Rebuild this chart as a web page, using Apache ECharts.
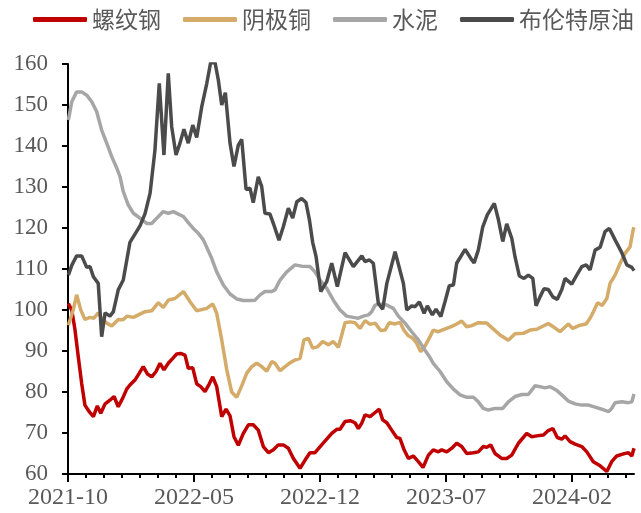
<!DOCTYPE html>
<html><head><meta charset="utf-8">
<script src="https://cdn.jsdelivr.net/npm/echarts@6/dist/echarts.min.js"></script>
<style>html,body{margin:0;padding:0;background:#fff}#c{width:641px;height:513px}</style>
</head><body><div id="c"></div>
<script>
// Series names and x tick labels
const seriesNames = ['螺纹钢', '阴极铜', '水泥', '布伦特原油'];
const tickLabels = ['2021-10', '2022-05', '2022-12', '2023-07', '2024-02'];
// [t, value], t = months since 2021-10-01
const rebar = [[0.02,101.6],[0.21,100],[0.39,95.1],[0.57,88.6],[0.76,82.1],[0.94,76.8],[1.18,75.2],[1.41,74],[1.63,76.6],[1.82,74.8],[2.06,77.1],[2.33,78],[2.56,78.9],[2.79,76.4],[3.04,78.5],[3.26,80.7],[3.44,81.7],[3.72,82.9],[3.96,84.6],[4.18,86.2],[4.41,84.4],[4.65,83.7],[4.89,85],[5.11,87],[5.33,85.4],[5.57,87],[5.82,88.2],[6.04,89.3],[6.26,89.4],[6.5,89],[6.68,85.8],[6.93,85.9],[7.15,82],[7.37,81.3],[7.61,80.1],[7.85,82],[8.04,83.7],[8.26,81.3],[8.54,74],[8.78,75.8],[9.0,74.2],[9.22,69.1],[9.46,67],[9.74,69.9],[10.02,72],[10.29,72],[10.57,70.7],[10.85,66.7],[11.13,65.2],[11.41,65.9],[11.68,67.1],[11.96,67.1],[12.24,66.3],[12.52,63.8],[12.89,61.4],[13.17,63.4],[13.44,65.2],[13.72,65.2],[14.09,67.1],[14.37,68.5],[14.65,69.9],[14.93,70.9],[15.11,70.9],[15.39,72.8],[15.67,73],[15.94,72.5],[16.13,71.1],[16.32,72.4],[16.5,74.4],[16.78,74],[17.06,75],[17.29,75.8],[17.48,73.2],[17.71,72.5],[17.98,70.7],[18.26,68.9],[18.44,68.7],[18.67,65.9],[18.91,63.8],[19.18,64.4],[19.46,63],[19.72,61.6],[20.02,64.6],[20.29,65.9],[20.57,65.4],[20.76,65.9],[21.04,65.4],[21.32,66.3],[21.59,67.5],[21.87,66.7],[22.15,65],[22.52,65.2],[22.79,65.4],[23.07,66.7],[23.26,66.5],[23.48,67.1],[23.72,65],[24.09,63.8],[24.37,63.8],[24.65,64.6],[25.02,67.5],[25.48,69.9],[25.76,69.1],[26.04,69.3],[26.41,69.5],[26.68,70.6],[26.93,71.1],[27.18,68.9],[27.43,68.5],[27.61,69.3],[27.89,67.9],[28.17,67.3],[28.54,66.7],[28.82,65.4],[29.18,63],[29.56,62],[29.93,60.6],[30.2,63],[30.48,64.4],[30.85,64.9],[31.13,65.2],[31.32,64.4],[31.44,66.3]];
const copper = [[0.02,96.3],[0.29,100],[0.48,103.7],[0.71,100],[0.94,97.7],[1.22,98.2],[1.44,98],[1.68,99.3],[1.87,98],[2.15,96.8],[2.43,96.1],[2.79,97.7],[3.04,97.6],[3.29,98.5],[3.63,98.2],[3.91,98.8],[4.28,99.6],[4.65,99.8],[5.02,101.8],[5.29,100.6],[5.57,102.4],[5.94,102.8],[6.41,104.5],[6.78,102],[7.15,99.8],[7.71,100.4],[8.04,101.5],[8.26,99.2],[8.54,92.7],[8.82,85.4],[9.09,80],[9.37,78.7],[9.65,81.5],[9.93,84.6],[10.21,86.2],[10.48,87],[10.76,86.2],[11.04,85.1],[11.32,87.4],[11.5,87],[11.78,85.2],[12.06,86.2],[12.33,87.1],[12.61,87.8],[12.89,88.2],[13.11,92.7],[13.35,93.1],[13.59,90.7],[13.85,91],[14.15,92.3],[14.46,91.5],[14.74,92.3],[15.02,90.9],[15.39,96.9],[15.67,97.1],[15.94,96.9],[16.22,95.5],[16.5,97.4],[16.78,96.5],[17.06,96.8],[17.37,95],[17.61,95.1],[17.85,96.9],[18.17,96.6],[18.44,97],[18.67,95],[18.91,93.7],[19.15,93.1],[19.37,91.9],[19.59,89.8],[19.83,91.2],[20.11,93.5],[20.29,95.1],[20.57,94.7],[20.85,95.2],[21.32,96],[21.59,96.6],[21.87,97.3],[22.15,95.9],[22.43,96.2],[22.79,96.9],[23.26,96.8],[23.54,95.7],[24.0,93.9],[24.46,92.6],[24.83,94.2],[25.29,94.3],[25.67,95.1],[26.04,95.3],[26.68,96.7],[27.06,95.6],[27.33,94.7],[27.79,96.6],[28.04,95.5],[28.44,96.3],[28.78,96.6],[29.0,98],[29.18,99.5],[29.42,101.8],[29.67,101.1],[29.93,102.8],[30.11,106.5],[30.39,108.5],[30.67,111.4],[30.94,113.8],[31.22,115.4],[31.39,119.5],[31.44,120.2]];
const cement = [[0.02,146.3],[0.21,150.8],[0.48,153.2],[0.76,153.2],[1.04,152.4],[1.32,150.8],[1.59,148.4],[1.87,143.9],[2.15,140.7],[2.43,137.4],[2.71,134.6],[2.89,132.5],[3.07,128.9],[3.35,125.6],[3.63,123.6],[4.0,122.4],[4.37,121.1],[4.65,121.1],[4.93,122.4],[5.29,124],[5.57,123.6],[5.85,124],[6.13,123.4],[6.41,122.8],[6.68,121.3],[6.96,119.9],[7.24,118.7],[7.52,117.1],[7.98,112.6],[8.26,109.3],[8.63,106.1],[9.0,103.9],[9.37,102.7],[9.74,102.3],[10.11,102.3],[10.39,102.4],[10.67,103.7],[10.94,104.5],[11.32,104.5],[11.5,104.9],[11.78,107.3],[12.15,109.3],[12.61,111],[12.98,110.7],[13.44,110.6],[13.72,109.3],[14.0,107.3],[14.37,105.3],[14.74,102.4],[15.11,100],[15.48,98.5],[15.85,98.2],[16.13,98],[16.41,98.5],[16.68,98.8],[16.87,99.6],[17.06,101.2],[17.33,101.5],[17.71,101.2],[18.07,100.4],[18.35,98.5],[18.72,96.8],[19.09,94.7],[19.46,92.7],[19.83,90.2],[20.11,88.4],[20.29,87],[20.67,85],[21.04,82.5],[21.41,80.7],[21.78,79.3],[22.15,78.7],[22.52,78.7],[22.79,77.6],[23.07,76],[23.35,75.6],[23.72,76],[24.15,76],[24.46,77.6],[24.83,78.9],[25.21,79.4],[25.57,79.4],[25.94,81.5],[26.22,81.3],[26.5,81],[26.78,81.3],[27.11,80.5],[27.43,79.3],[27.79,77.8],[28.17,77.1],[28.54,76.8],[28.91,76.8],[29.28,76.3],[29.65,75.8],[30.02,75.2],[30.2,76],[30.39,77.4],[30.76,77.6],[31.13,77.4],[31.32,77.6],[31.44,79.5]];
const brent = [[0.02,108.5],[0.22,111],[0.48,113.2],[0.76,113.2],[1.04,110.4],[1.22,110.6],[1.41,108.1],[1.68,106.5],[1.87,93.5],[2.06,99.3],[2.33,98.5],[2.52,99.6],[2.79,104.9],[3.07,107.3],[3.44,116.5],[3.72,118.5],[4.0,120.5],[4.28,123.5],[4.56,128.5],[4.83,139],[5.07,155.3],[5.33,137.8],[5.57,157.7],[5.76,144.7],[6.0,137.8],[6.22,140.7],[6.44,144.1],[6.68,140.7],[6.93,145.1],[7.15,142.1],[7.43,149.6],[7.71,155.3],[7.93,160.5],[8.17,160.3],[8.35,156.1],[8.54,150],[8.74,153],[9.0,140.7],[9.22,135],[9.46,140.2],[9.65,141.6],[9.89,129.4],[10.11,129.7],[10.29,126.2],[10.57,132.5],[10.76,130.1],[10.94,123.6],[11.22,123.4],[11.44,120.7],[11.72,117],[11.96,120.3],[12.24,124.8],[12.48,122.4],[12.71,126.4],[12.98,127.2],[13.22,126.2],[13.41,122],[13.59,116.5],[13.78,113],[14.04,104.5],[14.37,106.9],[14.65,111.4],[14.96,105.7],[15.39,114],[15.85,110.6],[16.32,113.2],[16.5,111.8],[16.74,112.2],[16.96,111.4],[17.24,101.6],[17.48,100.2],[17.71,106.5],[18.17,114.2],[18.63,106.5],[18.82,100],[19.09,101],[19.28,100.8],[19.52,102],[19.78,99.2],[19.96,101],[20.24,98.8],[20.44,100.2],[20.71,98.4],[20.94,102],[21.18,105.9],[21.41,106.1],[21.59,111.4],[22.06,114.8],[22.43,112.2],[22.56,111.5],[22.79,114.6],[23.04,120.3],[23.29,123.2],[23.68,126],[23.91,122],[24.15,116.7],[24.37,121],[24.65,117.5],[24.83,113],[25.07,108.3],[25.33,107.7],[25.57,108.5],[25.82,107.7],[26.0,101],[26.22,103.2],[26.44,105.2],[26.68,105],[26.93,103.2],[27.18,102.6],[27.43,105],[27.61,107.7],[27.98,106.3],[28.26,108.5],[28.54,110.6],[28.78,111],[29.0,109.8],[29.28,114.6],[29.56,115.3],[29.83,119.1],[30.07,119.9],[30.39,117.1],[30.76,114],[31.04,111],[31.32,110.4],[31.44,109.6]];

const colors = ['#C00000', '#D4AB68', '#A6A6A6', '#4B4B4B'];
const seriesData = [rebar, copper, cement, brent];
const monthTicks = Array.from({length: 32}, (_, i) => i);
const labelTicks = [0, 7, 14, 21, 28];
const labelFont = 'Liberation Serif, Times New Roman, serif';
const tickStyle = {color: '#000', width: 2};

const chart = echarts.init(document.getElementById('c'), null, {renderer: 'canvas'});
chart.setOption({
  animation: false,
  color: colors,
  legend: {
    left: 33, top: 8, width: 620, padding: 0, itemWidth: 54, itemHeight: 5, itemGap: 22, icon: 'roundRect',
    textStyle: {fontFamily: 'Noto Sans CJK SC', fontSize: 23, color: '#595959'},
    data: seriesNames
  },
  grid: {left: 68, right: 7, top: 64, bottom: 39},
  xAxis: [{
    type: 'value', min: 0, max: 31.44, interval: 1, position: 'bottom',
    axisLine: {lineStyle: tickStyle},
    axisTick: {customValues: monthTicks, length: 4, lineStyle: tickStyle},
    axisLabel: {customValues: labelTicks, margin: 12, fontFamily: labelFont, fontSize: 24, color: '#595959',
      formatter: v => (Math.abs(v % 7) < 1e-6 ? tickLabels[Math.round(v / 7)] : '')},
    splitLine: {show: false}
  }, {
    type: 'value', min: 0, max: 31.44, interval: 7, position: 'bottom',
    axisLine: {show: false},
    axisTick: {customValues: labelTicks, length: 8, lineStyle: tickStyle},
    axisLabel: {show: false}, splitLine: {show: false}
  }],
  yAxis: {
    type: 'value', min: 60, max: 160, interval: 10,
    axisLine: {show: true, lineStyle: tickStyle},
    axisTick: {show: true, length: 6, lineStyle: tickStyle},
    axisLabel: {margin: 20, fontFamily: labelFont, fontSize: 23, color: '#595959'},
    splitLine: {show: false}
  },
  series: seriesNames.map((n, i) => ({
    name: n, type: 'line', data: seriesData[i], showSymbol: false, symbol: 'none',
    lineStyle: {width: 3.5, color: colors[i]}, itemStyle: {color: colors[i]}, clip: true
  }))
});
</script></body></html>
